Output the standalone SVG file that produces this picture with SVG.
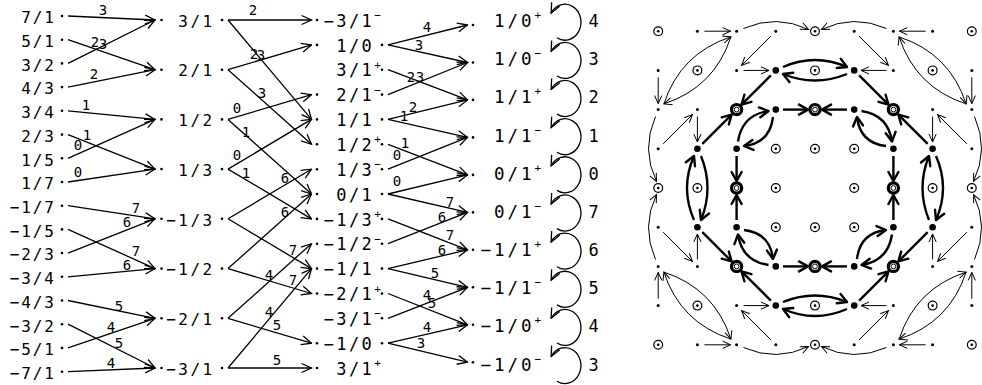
<svg xmlns="http://www.w3.org/2000/svg" width="982" height="385" viewBox="0 0 982 385">
<style>
text{font-family:"DejaVu Sans Mono",monospace;fill:#000}
.c1{font-size:16px;letter-spacing:1.87px}
.c2{font-size:16px;letter-spacing:2.47px}
.c3{font-size:17px;letter-spacing:2.47px}
.c4{font-size:17.5px;letter-spacing:2.97px}
.sp{font-size:11px}
.lb{font-size:14px;text-anchor:middle}
.ll{font-size:17px}
.e{fill:none;stroke:#000;stroke-width:1.3;marker-end:url(#ah)}
.tn{fill:none;stroke:#000;stroke-width:1;marker-end:url(#at)}
.tk{fill:none;stroke:#000;stroke-width:2.4;marker-end:url(#ak)}
</style>
<defs>
<marker id="ah" viewBox="-12 -6 13 12" refX="0" refY="0" markerWidth="13" markerHeight="12" orient="auto" markerUnits="userSpaceOnUse"><path d="M-10,-4.5 L0,0 L-10,4.5" fill="none" stroke="#000" stroke-width="1.3"/></marker>
<marker id="at" viewBox="-10 -5 11 10" refX="0" refY="0" markerWidth="11" markerHeight="10" orient="auto" markerUnits="userSpaceOnUse"><path d="M-8,-3.6 L0,0 L-8,3.6" fill="none" stroke="#000" stroke-width="1"/></marker>
<marker id="ak" viewBox="-12 -7 14 14" refX="0" refY="0" markerWidth="14" markerHeight="14" orient="auto" markerUnits="userSpaceOnUse"><path d="M-9,-5 L0,0 L-9,5" fill="none" stroke="#000" stroke-width="2.4" stroke-linejoin="round" stroke-linecap="round"/></marker>
<g id="sd"><circle r="1.5"/></g>
<g id="od"><circle r="4.4" fill="#fff" stroke="#000" stroke-width="1.2"/><circle r="1.3"/></g>
<g id="bd"><circle r="3.3"/></g>
<g id="bo"><circle r="5.1" fill="#fff" stroke="#000" stroke-width="3.2"/><circle r="2.4" fill="none" stroke="#000" stroke-width="1"/></g>
</defs>
<rect width="982" height="385" fill="#fff"/>

<g id="connectors">
<g id="e12">
<path class="e" d="M68,16 L155,20"/>
<path class="e" d="M68,39.7 L155,69.7"/>
<path class="e" d="M68,63.4 L155,20"/>
<path class="e" d="M68,87.1 L155,69.7"/>
<path class="e" d="M68,110.8 L155,119.4"/>
<path class="e" d="M68,134.6 L155,169.1"/>
<path class="e" d="M68,158.3 L155,119.4"/>
<path class="e" d="M68,182 L155,169.1"/>
<path class="e" d="M68,205.7 L155,218.8"/>
<path class="e" d="M68,229.4 L155,268.6"/>
<path class="e" d="M68,253.1 L155,218.8"/>
<path class="e" d="M68,276.8 L155,268.6"/>
<path class="e" d="M68,300.5 L155,318.3"/>
<path class="e" d="M68,324.2 L155,368"/>
<path class="e" d="M68,347.9 L155,318.3"/>
<path class="e" d="M68,371.7 L155,368"/>
<text class="lb" x="103" y="15">3</text>
<text class="lb" x="95" y="47">2</text>
<text class="lb" x="103" y="49">3</text>
<text class="lb" x="94" y="79">2</text>
<text class="lb" x="86" y="110">1</text>
<text class="lb" x="87" y="140">1</text>
<text class="lb" x="78" y="150">0</text>
<text class="lb" x="78" y="177">0</text>
<text class="lb" x="136" y="213">7</text>
<text class="lb" x="127" y="227">6</text>
<text class="lb" x="136" y="256">7</text>
<text class="lb" x="127" y="270">6</text>
<text class="lb" x="119" y="311">5</text>
<text class="lb" x="111" y="332">4</text>
<text class="lb" x="119" y="348">5</text>
<text class="lb" x="111" y="368">4</text>
</g>
<g id="e23">
<path class="e" d="M228,20 L311.5,20"/>
<path class="e" d="M228,20 L311.5,119.4"/>
<path class="e" d="M228,69.7 L311.5,44.9"/>
<path class="e" d="M228,69.7 L311.5,144.3"/>
<path class="e" d="M228,119.4 L311.5,94.6"/>
<path class="e" d="M228,119.4 L311.5,194"/>
<path class="e" d="M228,169.1 L311.5,119.4"/>
<path class="e" d="M228,169.1 L311.5,218.9"/>
<path class="e" d="M228,218.8 L311.5,169.2"/>
<path class="e" d="M228,218.8 L311.5,268.6"/>
<path class="e" d="M228,268.6 L311.5,194"/>
<path class="e" d="M228,268.6 L311.5,293.5"/>
<path class="e" d="M228,318.3 L311.5,243.7"/>
<path class="e" d="M228,318.3 L311.5,343.2"/>
<path class="e" d="M228,368 L311.5,268.6"/>
<path class="e" d="M228,368 L311.5,368"/>
<text class="lb" x="253" y="15">2</text>
<text class="lb" x="254" y="59">2</text>
<text class="lb" x="261" y="60">3</text>
<text class="lb" x="262" y="98">3</text>
<text class="lb" x="237" y="113">0</text>
<text class="lb" x="246" y="137">1</text>
<text class="lb" x="237" y="160">0</text>
<text class="lb" x="246" y="178">1</text>
<text class="lb" x="285" y="183">6</text>
<text class="lb" x="285" y="217">6</text>
<text class="lb" x="293" y="255">7</text>
<text class="lb" x="293" y="285">7</text>
<text class="lb" x="269" y="280">4</text>
<text class="lb" x="269" y="317">4</text>
<text class="lb" x="277" y="330">5</text>
<text class="lb" x="277" y="365">5</text>
</g>
<g id="e34">
<path class="e" d="M388,44.9 L467.5,25"/>
<path class="e" d="M388,44.9 L467.5,62.5"/>
<path class="e" d="M388,69.7 L467.5,99.9"/>
<path class="e" d="M388,94.6 L467.5,62.5"/>
<path class="e" d="M388,119.4 L467.5,99.9"/>
<path class="e" d="M388,119.4 L467.5,137.4"/>
<path class="e" d="M388,144.3 L467.5,174.9"/>
<path class="e" d="M388,169.2 L467.5,137.4"/>
<path class="e" d="M388,194 L467.5,174.9"/>
<path class="e" d="M388,194 L467.5,212.4"/>
<path class="e" d="M388,218.9 L467.5,249.8"/>
<path class="e" d="M388,243.7 L467.5,212.4"/>
<path class="e" d="M388,268.6 L467.5,249.8"/>
<path class="e" d="M388,268.6 L467.5,287.3"/>
<path class="e" d="M388,293.5 L467.5,324.8"/>
<path class="e" d="M388,318.3 L467.5,287.3"/>
<path class="e" d="M388,343.2 L467.5,324.8"/>
<path class="e" d="M388,343.2 L467.5,362.2"/>
<text class="lb" x="427" y="32">4</text>
<text class="lb" x="419" y="50">3</text>
<text class="lb" x="411" y="82">2</text>
<text class="lb" x="420" y="82">3</text>
<text class="lb" x="413" y="112">2</text>
<text class="lb" x="404" y="121">1</text>
<text class="lb" x="405" y="148">1</text>
<text class="lb" x="397" y="160">0</text>
<text class="lb" x="397" y="186">0</text>
<text class="lb" x="450" y="207">7</text>
<text class="lb" x="442" y="222">6</text>
<text class="lb" x="450" y="240">7</text>
<text class="lb" x="442" y="255">6</text>
<text class="lb" x="435" y="278">5</text>
<text class="lb" x="427" y="300">4</text>
<text class="lb" x="432" y="308">5</text>
<text class="lb" x="427" y="332">4</text>
<text class="lb" x="421" y="348">3</text>
</g>
<g id="loops">
<path class="e" d="M557,37.8 A16,18 0 1 0 551.1,13.2"/>
<path class="e" d="M557,76 A16,18 0 1 0 551.1,51.4"/>
<path class="e" d="M557,114.1 A16,18 0 1 0 551.1,89.5"/>
<path class="e" d="M557,152.3 A16,18 0 1 0 551.1,127.7"/>
<path class="e" d="M557,190.4 A16,18 0 1 0 551.1,165.8"/>
<path class="e" d="M557,228.6 A16,18 0 1 0 551.1,204"/>
<path class="e" d="M557,266.7 A16,18 0 1 0 551.1,242.1"/>
<path class="e" d="M557,304.9 A16,18 0 1 0 551.1,280.3"/>
<path class="e" d="M557,343 A16,18 0 1 0 551.1,318.4"/>
<path class="e" d="M557,381.2 A16,18 0 1 0 551.1,356.6"/>
<text class="ll" x="588.4" y="27.1">4</text>
<text class="ll" x="588.4" y="65.3">3</text>
<text class="ll" x="588.4" y="103.4">2</text>
<text class="ll" x="588.4" y="141.6">1</text>
<text class="ll" x="588.4" y="179.7">0</text>
<text class="ll" x="588.4" y="217.9">7</text>
<text class="ll" x="588.4" y="256">6</text>
<text class="ll" x="588.4" y="294.2">5</text>
<text class="ll" x="588.4" y="332.3">4</text>
<text class="ll" x="588.4" y="370.5">3</text>
</g>
<g id="graph-edges" transform="translate(815,188)">
<g id="q0">
<path class="tn" d="M-110.6,-156.8 L-84.4,-156.8"/>
<path class="tn" d="M110.6,-156.8 L84.4,-156.8"/>
<path class="tn" d="M-44.15,-151.85 L-73.45,-122.55"/>
<path class="tn" d="M44.15,-151.85 L73.45,-122.55"/>
<path class="tn" d="M-71.4,-117.6 L-46,-117.6"/>
<path class="tn" d="M71.4,-117.6 L46,-117.6"/>
<path class="tn" d="M-71.5,-159.5 Q-38.5,-174 -6.5,-158.5"/>
<path class="tn" d="M71.5,-159.5 Q38.5,-174 6.5,-158.5"/>
<path class="tn" d="M-151.1,-84.1 Q-134.6,-134.6 -84.1,-151.1"/>
<path class="tn" d="M-84.1,-151.1 Q-100.6,-100.6 -151.1,-84.1"/>
<path class="tk" d="M-32,-121 Q0,-135 32,-121"/>
<path class="tk" d="M32,-114 Q0,-101 -32,-114"/>
<path class="tk" d="M-44.15,-112.65 L-73.45,-83.35"/>
<path class="tk" d="M44.15,-112.65 L73.45,-83.35"/>
<path class="tk" d="M-32,-78.4 L-7,-78.4"/>
<path class="tk" d="M32,-78.4 L7,-78.4"/>
<path class="tk" d="M-77,-46.5 Q-73,-73 -46.5,-77"/>
<path class="tk" d="M-42,-71 Q-45,-45 -71,-42"/>
</g>
<use href="#q0" transform="rotate(90)"/>
<use href="#q0" transform="rotate(180)"/>
<use href="#q0" transform="rotate(270)"/>
</g>
</g>

<g id="nodes-col1">
<g id="a0"><text class="c1" x="21.2" y="23.3">7/1</text><circle cx="62" cy="16" r="1.3"/></g>
<g id="a1"><text class="c1" x="21.2" y="47">5/1</text><circle cx="62" cy="39.7" r="1.3"/></g>
<g id="a2"><text class="c1" x="21.2" y="70.7">3/2</text><circle cx="62" cy="63.4" r="1.3"/></g>
<g id="a3"><text class="c1" x="21.2" y="94.4">4/3</text><circle cx="62" cy="87.1" r="1.3"/></g>
<g id="a4"><text class="c1" x="21.2" y="118.1">3/4</text><circle cx="62" cy="110.8" r="1.3"/></g>
<g id="a5"><text class="c1" x="21.2" y="141.9">2/3</text><circle cx="62" cy="134.6" r="1.3"/></g>
<g id="a6"><text class="c1" x="21.2" y="165.6">1/5</text><circle cx="62" cy="158.3" r="1.3"/></g>
<g id="a7"><text class="c1" x="21.2" y="189.3">1/7</text><circle cx="62" cy="182" r="1.3"/></g>
<g id="a8"><text class="c1" x="9.7" y="213">−1/7</text><circle cx="62" cy="205.7" r="1.3"/></g>
<g id="a9"><text class="c1" x="9.7" y="236.7">−1/5</text><circle cx="62" cy="229.4" r="1.3"/></g>
<g id="a10"><text class="c1" x="9.7" y="260.4">−2/3</text><circle cx="62" cy="253.1" r="1.3"/></g>
<g id="a11"><text class="c1" x="9.7" y="284.1">−3/4</text><circle cx="62" cy="276.8" r="1.3"/></g>
<g id="a12"><text class="c1" x="9.7" y="307.8">−4/3</text><circle cx="62" cy="300.5" r="1.3"/></g>
<g id="a13"><text class="c1" x="9.7" y="331.5">−3/2</text><circle cx="62" cy="324.2" r="1.3"/></g>
<g id="a14"><text class="c1" x="9.7" y="355.2">−5/1</text><circle cx="62" cy="347.9" r="1.3"/></g>
<g id="a15"><text class="c1" x="9.7" y="379">−7/1</text><circle cx="62" cy="371.7" r="1.3"/></g>
</g>

<g id="nodes-col2">
<g id="b0"><circle cx="161.5" cy="20" r="1.3"/><text class="c2" x="178.3" y="26.7">3/1</text><circle cx="222" cy="20" r="1.3"/></g>
<g id="b1"><circle cx="161.5" cy="69.7" r="1.3"/><text class="c2" x="178.3" y="76.4">2/1</text><circle cx="222" cy="69.7" r="1.3"/></g>
<g id="b2"><circle cx="161.5" cy="119.4" r="1.3"/><text class="c2" x="178.3" y="126.1">1/2</text><circle cx="222" cy="119.4" r="1.3"/></g>
<g id="b3"><circle cx="161.5" cy="169.1" r="1.3"/><text class="c2" x="178.3" y="175.8">1/3</text><circle cx="222" cy="169.1" r="1.3"/></g>
<g id="b4"><circle cx="161.5" cy="218.8" r="1.3"/><text class="c2" x="166.2" y="225.5">−1/3</text><circle cx="222" cy="218.8" r="1.3"/></g>
<g id="b5"><circle cx="161.5" cy="268.6" r="1.3"/><text class="c2" x="166.2" y="275.3">−1/2</text><circle cx="222" cy="268.6" r="1.3"/></g>
<g id="b6"><circle cx="161.5" cy="318.3" r="1.3"/><text class="c2" x="166.2" y="325">−2/1</text><circle cx="222" cy="318.3" r="1.3"/></g>
<g id="b7"><circle cx="161.5" cy="368" r="1.3"/><text class="c2" x="166.2" y="374.7">−3/1</text><circle cx="222" cy="368" r="1.3"/></g>
</g>

<g id="nodes-col3">
<g id="c0"><circle cx="317" cy="20" r="1.3"/><text class="c3" x="323.5" y="26.7">−3/1<tspan class="sp" dy="-7.7">−</tspan></text></g>
<g id="c1"><circle cx="317" cy="44.9" r="1.3"/><text class="c3" x="336.2" y="51.6">1/0</text><circle cx="382" cy="44.9" r="1.3"/></g>
<g id="c2"><text class="c3" x="336.2" y="76.4">3/1<tspan class="sp" dy="-7.7">+</tspan></text><circle cx="382" cy="69.7" r="1.3"/></g>
<g id="c3"><circle cx="317" cy="94.6" r="1.3"/><text class="c3" x="336.2" y="101.3">2/1<tspan class="sp" dy="-7.7">−</tspan></text><circle cx="382" cy="94.6" r="1.3"/></g>
<g id="c4"><circle cx="317" cy="119.4" r="1.3"/><text class="c3" x="336.2" y="126.1">1/1</text><circle cx="382" cy="119.4" r="1.3"/></g>
<g id="c5"><circle cx="317" cy="144.3" r="1.3"/><text class="c3" x="336.2" y="151">1/2<tspan class="sp" dy="-7.7">+</tspan></text><circle cx="382" cy="144.3" r="1.3"/></g>
<g id="c6"><circle cx="317" cy="169.2" r="1.3"/><text class="c3" x="336.2" y="175.9">1/3<tspan class="sp" dy="-7.7">−</tspan></text><circle cx="382" cy="169.2" r="1.3"/></g>
<g id="c7"><circle cx="317" cy="194" r="1.3"/><text class="c3" x="336.2" y="200.7">0/1</text><circle cx="382" cy="194" r="1.3"/></g>
<g id="c8"><circle cx="317" cy="218.9" r="1.3"/><text class="c3" x="323.5" y="225.6">−1/3<tspan class="sp" dy="-7.7">+</tspan></text><circle cx="382" cy="218.9" r="1.3"/></g>
<g id="c9"><circle cx="317" cy="243.7" r="1.3"/><text class="c3" x="323.5" y="250.4">−1/2<tspan class="sp" dy="-7.7">−</tspan></text><circle cx="382" cy="243.7" r="1.3"/></g>
<g id="c10"><circle cx="317" cy="268.6" r="1.3"/><text class="c3" x="323.5" y="275.3">−1/1</text><circle cx="382" cy="268.6" r="1.3"/></g>
<g id="c11"><circle cx="317" cy="293.5" r="1.3"/><text class="c3" x="323.5" y="300.2">−2/1<tspan class="sp" dy="-7.7">+</tspan></text><circle cx="382" cy="293.5" r="1.3"/></g>
<g id="c12"><text class="c3" x="323.5" y="325">−3/1<tspan class="sp" dy="-7.7">−</tspan></text><circle cx="382" cy="318.3" r="1.3"/></g>
<g id="c13"><circle cx="317" cy="343.2" r="1.3"/><text class="c3" x="323.5" y="349.9">−1/0</text><circle cx="382" cy="343.2" r="1.3"/></g>
<g id="c14"><circle cx="317" cy="368" r="1.3"/><text class="c3" x="336.2" y="374.7">3/1<tspan class="sp" dy="-7.7">+</tspan></text></g>
</g>

<g id="nodes-col4">
<g id="d0"><circle cx="473" cy="25" r="1.3"/><text class="c4" x="494" y="27.1">1/0<tspan class="sp" dy="-8">+</tspan></text></g>
<g id="d1"><circle cx="473" cy="62.5" r="1.3"/><text class="c4" x="494" y="65.3">1/0<tspan class="sp" dy="-8">−</tspan></text></g>
<g id="d2"><circle cx="473" cy="99.9" r="1.3"/><text class="c4" x="494" y="103.4">1/1<tspan class="sp" dy="-8">+</tspan></text></g>
<g id="d3"><circle cx="473" cy="137.4" r="1.3"/><text class="c4" x="494" y="141.6">1/1<tspan class="sp" dy="-8">−</tspan></text></g>
<g id="d4"><circle cx="473" cy="174.9" r="1.3"/><text class="c4" x="494" y="179.7">0/1<tspan class="sp" dy="-8">+</tspan></text></g>
<g id="d5"><circle cx="473" cy="212.4" r="1.3"/><text class="c4" x="494" y="217.9">0/1<tspan class="sp" dy="-8">−</tspan></text></g>
<g id="d6"><circle cx="473" cy="249.8" r="1.3"/><text class="c4" x="480.5" y="256">−1/1<tspan class="sp" dy="-8">+</tspan></text></g>
<g id="d7"><circle cx="473" cy="287.3" r="1.3"/><text class="c4" x="480.5" y="294.2">−1/1<tspan class="sp" dy="-8">−</tspan></text></g>
<g id="d8"><circle cx="473" cy="324.8" r="1.3"/><text class="c4" x="480.5" y="332.3">−1/0<tspan class="sp" dy="-8">+</tspan></text></g>
<g id="d9"><circle cx="473" cy="362.2" r="1.3"/><text class="c4" x="480.5" y="370.5">−1/0<tspan class="sp" dy="-8">−</tspan></text></g>
</g>

<g id="graph-nodes" transform="translate(815,188)">
<g id="p0_0"><use href="#od" x="-156.8" y="-156.8"/></g>
<g id="p1_0"><use href="#sd" x="-117.6" y="-156.8"/></g>
<g id="p2_0"><use href="#sd" x="-78.4" y="-156.8"/></g>
<g id="p3_0"><use href="#sd" x="-39.2" y="-156.8"/></g>
<g id="p4_0"><use href="#od" x="0" y="-156.8"/></g>
<g id="p5_0"><use href="#sd" x="39.2" y="-156.8"/></g>
<g id="p6_0"><use href="#sd" x="78.4" y="-156.8"/></g>
<g id="p7_0"><use href="#sd" x="117.6" y="-156.8"/></g>
<g id="p8_0"><use href="#od" x="156.8" y="-156.8"/></g>
<g id="p0_1"><use href="#sd" x="-156.8" y="-117.6"/></g>
<g id="p1_1"><use href="#od" x="-117.6" y="-117.6"/></g>
<g id="p2_1"><use href="#sd" x="-78.4" y="-117.6"/></g>
<g id="p3_1"><use href="#bd" x="-39.2" y="-117.6"/></g>
<g id="p4_1"><use href="#od" x="0" y="-117.6"/></g>
<g id="p5_1"><use href="#bd" x="39.2" y="-117.6"/></g>
<g id="p6_1"><use href="#sd" x="78.4" y="-117.6"/></g>
<g id="p7_1"><use href="#od" x="117.6" y="-117.6"/></g>
<g id="p8_1"><use href="#sd" x="156.8" y="-117.6"/></g>
<g id="p0_2"><use href="#sd" x="-156.8" y="-78.4"/></g>
<g id="p1_2"><use href="#sd" x="-117.6" y="-78.4"/></g>
<g id="p2_2"><use href="#bo" x="-78.4" y="-78.4"/></g>
<g id="p3_2"><use href="#bd" x="-39.2" y="-78.4"/></g>
<g id="p4_2"><use href="#bo" x="0" y="-78.4"/></g>
<g id="p5_2"><use href="#bd" x="39.2" y="-78.4"/></g>
<g id="p6_2"><use href="#bo" x="78.4" y="-78.4"/></g>
<g id="p7_2"><use href="#sd" x="117.6" y="-78.4"/></g>
<g id="p8_2"><use href="#sd" x="156.8" y="-78.4"/></g>
<g id="p0_3"><use href="#sd" x="-156.8" y="-39.2"/></g>
<g id="p1_3"><use href="#bd" x="-117.6" y="-39.2"/></g>
<g id="p2_3"><use href="#bd" x="-78.4" y="-39.2"/></g>
<g id="p3_3"><use href="#od" x="-39.2" y="-39.2"/></g>
<g id="p4_3"><use href="#od" x="0" y="-39.2"/></g>
<g id="p5_3"><use href="#od" x="39.2" y="-39.2"/></g>
<g id="p6_3"><use href="#bd" x="78.4" y="-39.2"/></g>
<g id="p7_3"><use href="#bd" x="117.6" y="-39.2"/></g>
<g id="p8_3"><use href="#sd" x="156.8" y="-39.2"/></g>
<g id="p0_4"><use href="#od" x="-156.8" y="0"/></g>
<g id="p1_4"><use href="#od" x="-117.6" y="0"/></g>
<g id="p2_4"><use href="#bo" x="-78.4" y="0"/></g>
<g id="p3_4"><use href="#od" x="-39.2" y="0"/></g>
<g id="p5_4"><use href="#od" x="39.2" y="0"/></g>
<g id="p6_4"><use href="#bo" x="78.4" y="0"/></g>
<g id="p7_4"><use href="#od" x="117.6" y="0"/></g>
<g id="p8_4"><use href="#od" x="156.8" y="0"/></g>
<g id="p0_5"><use href="#sd" x="-156.8" y="39.2"/></g>
<g id="p1_5"><use href="#bd" x="-117.6" y="39.2"/></g>
<g id="p2_5"><use href="#bd" x="-78.4" y="39.2"/></g>
<g id="p3_5"><use href="#od" x="-39.2" y="39.2"/></g>
<g id="p4_5"><use href="#od" x="0" y="39.2"/></g>
<g id="p5_5"><use href="#od" x="39.2" y="39.2"/></g>
<g id="p6_5"><use href="#bd" x="78.4" y="39.2"/></g>
<g id="p7_5"><use href="#bd" x="117.6" y="39.2"/></g>
<g id="p8_5"><use href="#sd" x="156.8" y="39.2"/></g>
<g id="p0_6"><use href="#sd" x="-156.8" y="78.4"/></g>
<g id="p1_6"><use href="#sd" x="-117.6" y="78.4"/></g>
<g id="p2_6"><use href="#bo" x="-78.4" y="78.4"/></g>
<g id="p3_6"><use href="#bd" x="-39.2" y="78.4"/></g>
<g id="p4_6"><use href="#bo" x="0" y="78.4"/></g>
<g id="p5_6"><use href="#bd" x="39.2" y="78.4"/></g>
<g id="p6_6"><use href="#bo" x="78.4" y="78.4"/></g>
<g id="p7_6"><use href="#sd" x="117.6" y="78.4"/></g>
<g id="p8_6"><use href="#sd" x="156.8" y="78.4"/></g>
<g id="p0_7"><use href="#sd" x="-156.8" y="117.6"/></g>
<g id="p1_7"><use href="#od" x="-117.6" y="117.6"/></g>
<g id="p2_7"><use href="#sd" x="-78.4" y="117.6"/></g>
<g id="p3_7"><use href="#bd" x="-39.2" y="117.6"/></g>
<g id="p4_7"><use href="#od" x="0" y="117.6"/></g>
<g id="p5_7"><use href="#bd" x="39.2" y="117.6"/></g>
<g id="p6_7"><use href="#sd" x="78.4" y="117.6"/></g>
<g id="p7_7"><use href="#od" x="117.6" y="117.6"/></g>
<g id="p8_7"><use href="#sd" x="156.8" y="117.6"/></g>
<g id="p0_8"><use href="#od" x="-156.8" y="156.8"/></g>
<g id="p1_8"><use href="#sd" x="-117.6" y="156.8"/></g>
<g id="p2_8"><use href="#sd" x="-78.4" y="156.8"/></g>
<g id="p3_8"><use href="#sd" x="-39.2" y="156.8"/></g>
<g id="p4_8"><use href="#od" x="0" y="156.8"/></g>
<g id="p5_8"><use href="#sd" x="39.2" y="156.8"/></g>
<g id="p6_8"><use href="#sd" x="78.4" y="156.8"/></g>
<g id="p7_8"><use href="#sd" x="117.6" y="156.8"/></g>
<g id="p8_8"><use href="#od" x="156.8" y="156.8"/></g>
</g>
</svg>
